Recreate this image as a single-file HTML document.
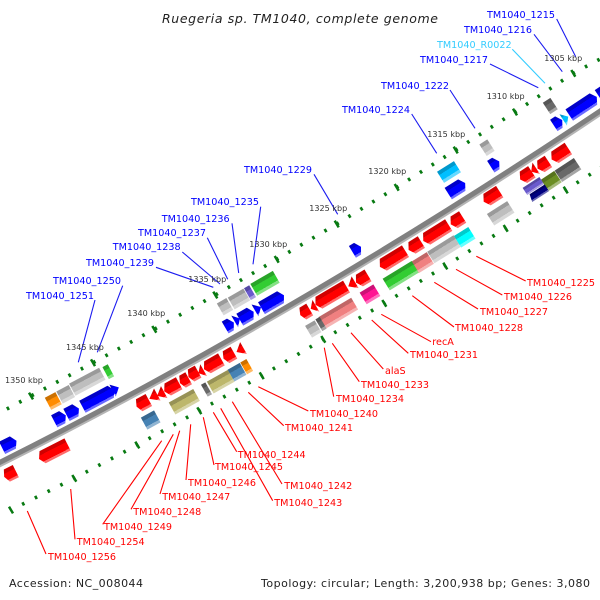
<!DOCTYPE html>
<html><head><meta charset="utf-8"><style>
html,body{margin:0;padding:0;background:#fff}
svg{display:block}
text{font-family:"DejaVu Sans","Liberation Sans",sans-serif}
.b text{fill:#00f;font-size:9.63px}
.r text{fill:#f00;font-size:9.63px}
.s text{fill:#333;font-size:8.05px}
g[transform]>*{transform:scale(1,1.05)}
</style></head><body>
<svg width="600" height="600" viewBox="0 0 600 600" xmlns="http://www.w3.org/2000/svg">
<defs>
<linearGradient id="r" x1="0" y1="0" x2="0" y2="1"><stop offset=".3" stop-color="#d00000"/><stop offset=".3" stop-color="#f00"/><stop offset=".82" stop-color="#f00"/><stop offset=".82" stop-color="#ff6a6a"/></linearGradient>
<linearGradient id="u" x1="0" y1="0" x2="0" y2="1"><stop offset=".3" stop-color="#0000c8"/><stop offset=".3" stop-color="#00f"/><stop offset=".82" stop-color="#00f"/><stop offset=".82" stop-color="#6a6aff"/></linearGradient>
<linearGradient id="g" x1="0" y1="0" x2="0" y2="1"><stop offset=".3" stop-color="#9a9a9a"/><stop offset=".3" stop-color="#bebebe"/><stop offset=".75" stop-color="#bebebe"/><stop offset=".75" stop-color="#d8d8d8"/></linearGradient>
<linearGradient id="d" x1="0" y1="0" x2="0" y2="1"><stop offset=".3" stop-color="#555"/><stop offset=".3" stop-color="#696969"/><stop offset=".78" stop-color="#696969"/><stop offset=".78" stop-color="#a5a5a5"/></linearGradient>
<linearGradient id="c" x1="0" y1="0" x2="0" y2="1"><stop offset=".3" stop-color="#0098cc"/><stop offset=".3" stop-color="#00bfff"/><stop offset=".75" stop-color="#00bfff"/><stop offset=".75" stop-color="#66d9ff"/></linearGradient>
<linearGradient id="a" x1="0" y1="0" x2="0" y2="1"><stop offset=".3" stop-color="#00cccc"/><stop offset=".3" stop-color="#0ff"/><stop offset=".78" stop-color="#0ff"/><stop offset=".78" stop-color="#66ffff"/></linearGradient>
<linearGradient id="n" x1="0" y1="0" x2="0" y2="1"><stop offset=".3" stop-color="#28a428"/><stop offset=".3" stop-color="#32cd32"/><stop offset=".78" stop-color="#32cd32"/><stop offset=".78" stop-color="#84e184"/></linearGradient>
<linearGradient id="o" x1="0" y1="0" x2="0" y2="1"><stop offset=".3" stop-color="#56721c"/><stop offset=".3" stop-color="#6b8e23"/><stop offset=".78" stop-color="#6b8e23"/><stop offset=".78" stop-color="#a6bb7b"/></linearGradient>
<linearGradient id="l" x1="0" y1="0" x2="0" y2="1"><stop offset=".3" stop-color="#c06666"/><stop offset=".3" stop-color="#f08080"/><stop offset=".78" stop-color="#f08080"/><stop offset=".78" stop-color="#f6b3b3"/></linearGradient>
<linearGradient id="m" x1="0" y1="0" x2="0" y2="1"><stop offset=".3" stop-color="#cc1076"/><stop offset=".3" stop-color="#ff1493"/><stop offset=".78" stop-color="#ff1493"/><stop offset=".78" stop-color="#ff72be"/></linearGradient>
<linearGradient id="e" x1="0" y1="0" x2="0" y2="1"><stop offset=".3" stop-color="#cc7000"/><stop offset=".3" stop-color="#ff8c00"/><stop offset=".78" stop-color="#ff8c00"/><stop offset=".78" stop-color="#ffba66"/></linearGradient>
<linearGradient id="t" x1="0" y1="0" x2="0" y2="1"><stop offset=".3" stop-color="#386890"/><stop offset=".3" stop-color="#4682b4"/><stop offset=".78" stop-color="#4682b4"/><stop offset=".78" stop-color="#90b4d2"/></linearGradient>
<linearGradient id="k" x1="0" y1="0" x2="0" y2="1"><stop offset=".3" stop-color="#979256"/><stop offset=".3" stop-color="#bdb76b"/><stop offset=".78" stop-color="#bdb76b"/><stop offset=".78" stop-color="#d7d4a6"/></linearGradient>
<linearGradient id="p" x1="0" y1="0" x2="0" y2="1"><stop offset=".3" stop-color="#5548a4"/><stop offset=".3" stop-color="#6a5acd"/><stop offset=".78" stop-color="#6a5acd"/><stop offset=".78" stop-color="#a69ce1"/></linearGradient>
<linearGradient id="v" x1="0" y1="0" x2="0" y2="1"><stop offset=".3" stop-color="#000066"/><stop offset=".3" stop-color="#000080"/><stop offset=".78" stop-color="#000080"/><stop offset=".78" stop-color="#6666b3"/></linearGradient>
</defs>

<!-- tick rows -->
<path fill="none" stroke="#087a12" stroke-width="3.6" stroke-dasharray="2.6 11.4" stroke-dashoffset="1.3" d="M610.8 53.3L573.3 73.3L515 112L455.7 150L396.7 187.3L336.7 224L276.7 259.3L215.3 295L154.3 329.3L93 362.7L31 396L-8 417"/>
<path fill="none" stroke="#087a12" stroke-width="3.6" stroke-dasharray="2.6 11.65" stroke-dashoffset="1.3" d="M601.7 167L565.7 190L505.7 228.3L445.3 266L384.3 303.3L323.3 339.3L261.7 375.7L199.3 410.7L137.3 445L74.3 478.3L11 510"/>
<path fill="none" stroke="#087a12" stroke-width="2.5" d="M571.3 70l4 6.7M513 108.7l4 6.7M453.7 146.7l4 6.7M394.7 184l4 6.7M334.7 220.7l4 6.7M274.7 256l4 6.7M213.3 291.7l4 6.7M152.3 326l4 6.7M91 359.4l4 6.7M29 392.7l4 6.7M563.7 186.7l4 6.7M503.7 225l4 6.7M443.3 262.7l4 6.7M382.3 300l4 6.7M321.3 336l4 6.7M259.7 372.4l4 6.7M197.3 407.4l4 6.7M135.3 441.7l4 6.7M72.3 475l4 6.7M9 506.7l4 6.7"/>

<!-- backbone -->
<path d="M-5 466Q300 313.5 605 109" fill="none" stroke="#b4b4b4" stroke-width="7"/>
<path d="M-5.5 465.1Q299.5 312.6 604.5 108.1" fill="none" stroke="#808080" stroke-width="5"/>

<!-- connectors -->
<path fill="none" stroke="#1c1cf0" stroke-width="1.1" d="M556.7 19L575.7 56.7M534 34.3L562.3 71.7M490 64L538.3 87.7M450 90L475 128.3M411.7 114L436.7 153.3M314 174.3L337.7 214.3M260.7 206.7L253 264.3M232 223.3L238.7 273M207.3 237.7L227.7 279.3M182.3 252L220 284M156 267.3L213.3 287.3M122.7 285.7L97.3 352.3M95 300L78.3 362.3"/>
<path fill="none" stroke="#33ccff" stroke-width="1.1" d="M512.3 49.3L545 83.3"/>
<path fill="none" stroke="#f00" stroke-width="1.1" d="M476.3 256.3L525.7 281M456 269.3L502.3 295M434.3 282.3L478 309M412.3 295.7L454 327M381.3 314.3L431 341.7M371.7 320L408.3 353.3M351 332.7L383.3 369M332.3 343.3L359.3 381.7M324.3 347.7L333.7 396.7M258.3 386.7L308.3 411M248.3 392.3L283.7 425.7M232.3 401.7L282 484M220.7 408.3L272.7 500.7M213.3 412.3L236.7 451.7M203.3 417.3L214 465M190.7 424.3L186 480M179.7 430.7L160 494M173.3 434.3L131 509.3M161.7 440.7L102.7 524.3M70.7 489L75 539.3M27.3 511L46 554"/>

<!-- upper strand genes -->
<g transform="translate(611 87.5) rotate(-33.5)"><path fill="url(#u)" d="M15 0l-4-6.5H-15v13H11z"/></g>
<g transform="translate(583 106) rotate(-33.5)"><path fill="url(#u)" d="M16.5 0l-4-6.5H-16.5v13H12.5z"/></g>
<g transform="translate(550.3 106) rotate(-33)"><rect x="-4.5" y="-6.5" width="9" height="13" fill="url(#d)"/></g>
<g transform="translate(558 122.7) rotate(-33)"><path fill="url(#u)" d="M5 0l-4-6.5H-5v13H1z"/></g>
<g transform="translate(565.7 118.3) rotate(-33)"><path fill="url(#c)" d="M3 0L-3-6.5v13z"/></g>
<g transform="translate(487 147.7) rotate(-32.5)"><rect x="-4.7" y="-6.5" width="9.4" height="13" fill="url(#g)"/></g>
<g transform="translate(495 164) rotate(-32.5)"><path fill="url(#u)" d="M5 0l-4-6.5H-5v13H1z"/></g>
<g transform="translate(449 172) rotate(-32.2)"><rect x="-10" y="-6.3" width="20" height="12.6" fill="url(#c)"/></g>
<g transform="translate(456.7 188.3) rotate(-32.2)"><path fill="url(#u)" d="M10 0l-4-6.5H-10v13H6z"/></g>
<g transform="translate(356.7 249.3) rotate(-31)"><path fill="url(#u)" d="M5 0l-4-6.5H-5v13H1z"/></g>
<g transform="translate(265 283.3) rotate(-30)"><rect x="-13" y="-6.5" width="26" height="13" fill="url(#n)"/></g>
<g transform="translate(250 292.7) rotate(-30)"><rect x="-3" y="-6.5" width="6" height="13" fill="url(#p)"/></g>
<g transform="translate(239 299) rotate(-30)"><rect x="-9" y="-6.5" width="18" height="13" fill="url(#g)"/></g>
<g transform="translate(225 306.7) rotate(-30)"><rect x="-5.5" y="-6.5" width="11" height="13" fill="url(#g)"/></g>
<g transform="translate(272.7 301.7) rotate(-30)"><path fill="url(#u)" d="M13 0l-4-6.5H-13v13H9z"/></g>
<g transform="translate(258 308.7) rotate(-30)"><path fill="url(#u)" d="M3.5 0L-3.5-6.5v13z"/></g>
<g transform="translate(246.7 315.7) rotate(-30)"><path fill="url(#u)" d="M8 0l-4-6.5H-8v13H4z"/></g>
<g transform="translate(237.3 320) rotate(-30)"><path fill="url(#u)" d="M3 0L-3-6.5v13z"/></g>
<g transform="translate(229.5 325) rotate(-30)"><path fill="url(#u)" d="M5 0l-4-6.5H-5v13H1z"/></g>
<g transform="translate(108.3 371.7) rotate(-28)"><rect x="-3" y="-6.5" width="6" height="13" fill="url(#n)"/></g>
<g transform="translate(87.3 381.7) rotate(-28)"><rect x="-17" y="-6.5" width="34" height="13" fill="url(#g)"/></g>
<g transform="translate(65.7 394.3) rotate(-28)"><rect x="-7" y="-6.5" width="14" height="13" fill="url(#g)"/></g>
<g transform="translate(53.3 401) rotate(-28)"><rect x="-6" y="-6.5" width="12" height="13" fill="url(#e)"/></g>
<g transform="translate(98.3 398.3) rotate(-28)"><path fill="url(#u)" d="M18 0l-4-6.5H-18v13H14z"/></g>
<g transform="translate(115.7 389) rotate(-28)"><path fill="url(#u)" d="M3.5 0L-3.5-6.5v13z"/></g>
<g transform="translate(72.7 411.7) rotate(-27.5)"><path fill="url(#u)" d="M7 0l-4-6.5H-7v13H3z"/></g>
<g transform="translate(60 418.3) rotate(-27.5)"><path fill="url(#u)" d="M6.5 0l-4-6.5H-6.5v13H2.5z"/></g>
<g transform="translate(9.3 444.3) rotate(-26.5)"><path fill="url(#u)" d="M8 0l-4-6.5H-8v13H4z"/></g>

<!-- lower strand genes -->
<g transform="translate(560 154) rotate(-33.3)"><path fill="url(#r)" d="M-10 0l4-6.5H10v13H-6z"/></g>
<g transform="translate(543 165) rotate(-33.3)"><path fill="url(#r)" d="M-6.5 0l4-6.5H6.5v13H-2.5z"/></g>
<g transform="translate(533.7 170) rotate(-33.3)"><path fill="url(#r)" d="M-3 0L3-6.5v13z"/></g>
<g transform="translate(526 175.7) rotate(-33.3)"><path fill="url(#r)" d="M-7 0l4-6.5H7v13H-3z"/></g>
<g transform="translate(568 170) rotate(-33.3)"><rect x="-11.5" y="-6.5" width="23" height="13" fill="url(#d)"/></g>
<g transform="translate(551.3 181) rotate(-33.3)"><rect x="-8" y="-6.5" width="16" height="13" fill="url(#o)"/></g>
<g transform="translate(533.3 186) rotate(-33)"><rect x="-10" y="-4" width="20" height="8" fill="url(#p)"/></g>
<g transform="translate(538.3 193) rotate(-33)"><path fill="url(#v)" d="M-10 4l2-7.5H10v7.5z"/></g>
<g transform="translate(491.7 196.7) rotate(-32.5)"><path fill="url(#r)" d="M-9.5 0l4-6.5H9.5v13H-5.5z"/></g>
<g transform="translate(500.7 213.3) rotate(-32.5)"><rect x="-12" y="-6.5" width="24" height="13" fill="url(#g)"/></g>
<g transform="translate(456.7 220.7) rotate(-32)"><path fill="url(#r)" d="M-7 0l4-6.5H7v13H-3z"/></g>
<g transform="translate(436 233) rotate(-32)"><path fill="url(#r)" d="M-15 0l4-6.5H15v13H-11z"/></g>
<g transform="translate(415 246) rotate(-32)"><path fill="url(#r)" d="M-7.5 0l4-6.5H7.5v13H-3.5z"/></g>
<g transform="translate(392.7 259) rotate(-31.5)"><path fill="url(#r)" d="M-15 0l4-6.5H15v13H-11z"/></g>
<g transform="translate(464.7 237.3) rotate(-32)"><rect x="-8.5" y="-6.5" width="17" height="13" fill="url(#a)"/></g>
<g transform="translate(444 249.3) rotate(-32)"><rect x="-15.5" y="-6.5" width="31" height="13" fill="url(#g)"/></g>
<g transform="translate(422.7 262.7) rotate(-32)"><rect x="-9" y="-6.5" width="18" height="13" fill="url(#l)"/></g>
<g transform="translate(400.7 275.7) rotate(-31.5)"><rect x="-17" y="-6.5" width="34" height="13" fill="url(#n)"/></g>
<g transform="translate(370 294.3) rotate(-31)"><rect x="-8" y="-6.5" width="16" height="13" fill="url(#m)"/></g>
<g transform="translate(362 279) rotate(-31)"><path fill="url(#r)" d="M-7 0l4-6.5H7v13H-3z"/></g>
<g transform="translate(351.7 284.3) rotate(-31)"><path fill="url(#r)" d="M-4 0L4-6.5v13z"/></g>
<g transform="translate(331 295.7) rotate(-30.5)"><path fill="url(#r)" d="M-18 0l4-6.5H18v13H-14z"/></g>
<g transform="translate(313.3 307.3) rotate(-30.5)"><path fill="url(#r)" d="M-3 0L3-6.5v13z"/></g>
<g transform="translate(305 312.3) rotate(-30.5)"><path fill="url(#r)" d="M-5.5 0l3-6.5H5.5v13H-2.5z"/></g>
<g transform="translate(338.3 313.3) rotate(-30.5)"><rect x="-19" y="-6.5" width="38" height="13" fill="url(#l)"/></g>
<g transform="translate(321 324) rotate(-30.5)"><rect x="-2.5" y="-6.5" width="5" height="13" fill="url(#d)"/></g>
<g transform="translate(313.3 329) rotate(-30.5)"><rect x="-5.5" y="-6.5" width="11" height="13" fill="url(#g)"/></g>
<g transform="translate(240 350) rotate(-29.5)"><path fill="url(#r)" d="M-4 0L4-6.5v13z"/></g>
<g transform="translate(228.7 355.7) rotate(-29.5)"><path fill="url(#r)" d="M-6 0l3-6.5H6v13H-3z"/></g>
<g transform="translate(212.7 364.3) rotate(-29.5)"><path fill="url(#r)" d="M-10 0l4-6.5H10v13H-6z"/></g>
<g transform="translate(201 371.7) rotate(-29.5)"><path fill="url(#r)" d="M-3 0L3-6.5v13z"/></g>
<g transform="translate(193.3 374.3) rotate(-29)"><path fill="url(#r)" d="M-5.5 0l3-6.5H5.5v13H-2.5z"/></g>
<g transform="translate(184.3 380.7) rotate(-29)"><path fill="url(#r)" d="M-5 0l3-6.5H5v13H-2z"/></g>
<g transform="translate(171.7 387.3) rotate(-28.5)"><path fill="url(#r)" d="M-8.5 0l4-6.5H8.5v13H-4.5z"/></g>
<g transform="translate(160.7 394) rotate(-28.5)"><path fill="url(#r)" d="M-4 0L4-6.5v13z"/></g>
<g transform="translate(153.3 396.7) rotate(-28.5)"><path fill="url(#r)" d="M-4.5 0L4.5-6.5v13z"/></g>
<g transform="translate(142.7 403.3) rotate(-28.5)"><path fill="url(#r)" d="M-7 0l3-6.5H7v13H-4z"/></g>
<g transform="translate(246.7 366.7) rotate(-29.5)"><rect x="-3.5" y="-6.5" width="7" height="13" fill="url(#e)"/></g>
<g transform="translate(237 372.3) rotate(-29.5)"><rect x="-7" y="-6.5" width="14" height="13" fill="url(#t)"/></g>
<g transform="translate(220.7 381.7) rotate(-29.5)"><rect x="-12" y="-6.5" width="24" height="13" fill="url(#k)"/></g>
<g transform="translate(206.5 389.5) rotate(-29.5)"><rect x="-2.5" y="-6.5" width="5" height="13" fill="url(#d)"/></g>
<g transform="translate(184.3 401.7) rotate(-29)"><rect x="-14" y="-6.5" width="28" height="13" fill="url(#k)"/></g>
<g transform="translate(150.7 420) rotate(-28.5)"><rect x="-7.5" y="-6.5" width="15" height="13" fill="url(#t)"/></g>
<g transform="translate(53.3 451.7) rotate(-27)"><path fill="url(#r)" d="M-16 0l4-6.5H16v13H-12z"/></g>
<g transform="translate(10 474) rotate(-26.5)"><path fill="url(#r)" d="M-6.5 0l3-6.5H6.5v13H-3.5z"/></g>

<!-- scale labels -->
<g class="s">
<text x="544.3" y="61">1305 kbp</text>
<text x="486.7" y="99">1310 kbp</text>
<text x="427.3" y="137">1315 kbp</text>
<text x="368.3" y="174">1320 kbp</text>
<text x="309.3" y="211">1325 kbp</text>
<text x="249.3" y="247">1330 kbp</text>
<text x="188.3" y="282">1335 kbp</text>
<text x="127.3" y="316">1340 kbp</text>
<text x="66" y="350">1345 kbp</text>
<text x="5" y="383">1350 kbp</text>
</g>

<!-- blue labels -->
<g class="b">
<text x="487" y="18">TM1040_1215</text>
<text x="464" y="33">TM1040_1216</text>
<text x="437" y="48" style="fill:#33ccff">TM1040_R0022</text>
<text x="420" y="63">TM1040_1217</text>
<text x="381" y="89">TM1040_1222</text>
<text x="342" y="113">TM1040_1224</text>
<text x="244" y="173">TM1040_1229</text>
<text x="191" y="205">TM1040_1235</text>
<text x="161.7" y="222">TM1040_1236</text>
<text x="138" y="236">TM1040_1237</text>
<text x="112.7" y="250">TM1040_1238</text>
<text x="86" y="266">TM1040_1239</text>
<text x="53" y="284">TM1040_1250</text>
<text x="26" y="299">TM1040_1251</text>
</g>

<!-- red labels -->
<g class="r">
<text x="527" y="286">TM1040_1225</text>
<text x="504" y="300">TM1040_1226</text>
<text x="480" y="315">TM1040_1227</text>
<text x="455" y="331">TM1040_1228</text>
<text x="432.3" y="345">recA</text>
<text x="410" y="358">TM1040_1231</text>
<text x="385" y="374">alaS</text>
<text x="361" y="388">TM1040_1233</text>
<text x="336" y="402">TM1040_1234</text>
<text x="310" y="417">TM1040_1240</text>
<text x="285" y="431">TM1040_1241</text>
<text x="237.7" y="458">TM1040_1244</text>
<text x="215" y="470">TM1040_1245</text>
<text x="188" y="486">TM1040_1246</text>
<text x="284.3" y="489">TM1040_1242</text>
<text x="274.3" y="506">TM1040_1243</text>
<text x="162.3" y="500">TM1040_1247</text>
<text x="133.3" y="515">TM1040_1248</text>
<text x="104" y="530">TM1040_1249</text>
<text x="76.7" y="545">TM1040_1254</text>
<text x="48" y="560">TM1040_1256</text>
</g>

<!-- title and footer -->
<text x="162" y="23" font-size="12.5" font-style="italic" fill="#222" textLength="276" lengthAdjust="spacing">Ruegeria sp. TM1040, complete genome</text>
<text x="9" y="587" font-size="11" fill="#222" textLength="134" lengthAdjust="spacing">Accession: NC_008044</text>
<text x="261" y="587" font-size="11" fill="#222" textLength="329" lengthAdjust="spacing">Topology: circular; Length: 3,200,938 bp; Genes: 3,080</text>
</svg>
</body></html>
